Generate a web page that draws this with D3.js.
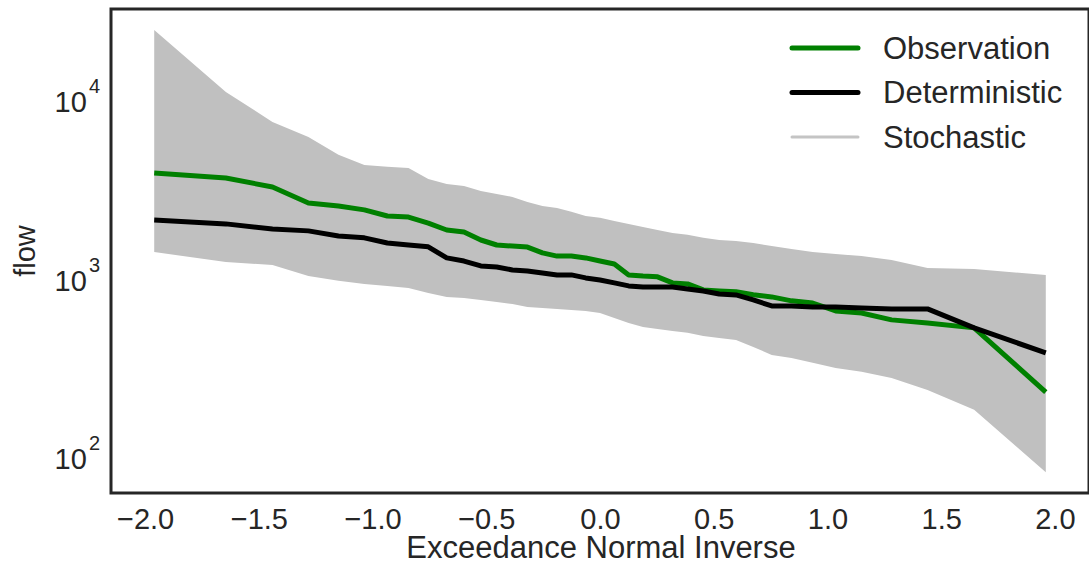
<!DOCTYPE html>
<html>
<head>
<meta charset="utf-8">
<script src="https://cdn.jsdelivr.net/npm/d3@7"></script>
<style>
  body { margin: 0; background: #fff; }
  text { font-family: "Liberation Sans", Arial, sans-serif; fill: #262626; }
</style>
</head>
<body>
<svg width="1089" height="574"></svg>
<script>
const svg = d3.select("svg");

// plotting positions (exceedance, normal inverse)
const xs = [-1.960, -1.645, -1.440, -1.282, -1.150, -1.036, -0.935, -0.842, -0.755, -0.674,
  -0.598, -0.524, -0.454, -0.385, -0.319, -0.253, -0.189, -0.126, -0.063, 0,
  0.063, 0.126, 0.189, 0.253, 0.319, 0.385, 0.454, 0.524, 0.598, 0.674,
  0.755, 0.842, 0.935, 1.036, 1.150, 1.282, 1.440, 1.645, 1.960];

const observation = [3800, 3560, 3170, 2580, 2480, 2360, 2180, 2150, 1990, 1820,
  1775, 1600, 1500, 1480, 1460, 1355, 1300, 1300, 1270, 1220,
  1175, 1020, 1005, 995, 920, 908, 840, 830, 820, 790,
  768, 730, 710, 641, 624, 571, 549, 515, 225];

const deterministic = [2070, 1970, 1845, 1800, 1685, 1645, 1540, 1500, 1465, 1270,
  1220, 1145, 1130, 1087, 1073, 1046, 1020, 1020, 981, 956,
  920, 885, 873, 873, 873, 851, 829, 798, 788, 739,
  683, 683, 675, 675, 666, 658, 658, 515, 373];

const stochHigh = [24000, 10800, 7340, 6050, 4800, 4210, 4110, 4050, 3520, 3300,
  3210, 3010, 2900, 2790, 2615, 2480, 2420, 2300, 2180, 2130,
  2045, 1970, 1890, 1820, 1750, 1710, 1645, 1600, 1580, 1540,
  1480, 1425, 1370, 1335, 1300, 1235, 1115, 1100, 1020];

const stochLow = [1370, 1205, 1160, 1005, 945, 908, 885, 862, 808, 768,
  758, 739, 720, 701, 675, 666, 658, 649, 641, 624,
  585, 549, 521, 508, 495, 483, 464, 452, 441, 403,
  363, 349, 328, 307, 292, 270, 231, 179, 80];

const xTicks = [-2.0, -1.5, -1.0, -0.5, 0.0, 0.5, 1.0, 1.5, 2.0];
const yTicks = [100, 1000, 10000];

const seriesNames = ["Observation", "Deterministic", "Stochastic"];
const seriesColors = ["#008000", "#000000", "#c4c4c4"];

const plotLeft = 111;
const plotRight = 1089;
const plotTop = 9;
const plotBottom = 493;

const x = d3.scaleLinear().domain([-2.15, 2.15]).range([plotLeft, plotRight]);
const y = d3.scaleLog().domain([61.2, 31500]).range([plotBottom, plotTop]);

const idx = d3.range(xs.length);

// stochastic band
svg
  .append("path")
  .attr("fill", "#c0c0c0")
  .attr(
    "d",
    d3.area()
      .x(i => x(xs[i]))
      .y0(i => y(stochLow[i]))
      .y1(i => y(stochHigh[i]))(idx)
  );

const line = vals =>
  d3.line()
    .x(i => x(xs[i]))
    .y(i => y(vals[i]))(idx);

svg
  .append("path")
  .attr("d", line(observation))
  .attr("fill", "none")
  .attr("stroke", seriesColors[0])
  .attr("stroke-width", 5)
  .attr("stroke-linejoin", "round");

svg
  .append("path")
  .attr("d", line(deterministic))
  .attr("fill", "none")
  .attr("stroke", seriesColors[1])
  .attr("stroke-width", 5)
  .attr("stroke-linejoin", "round");

// frame
svg
  .append("rect")
  .attr("x", plotLeft)
  .attr("y", plotTop)
  .attr("width", plotRight - plotLeft)
  .attr("height", plotBottom - plotTop)
  .attr("fill", "none")
  .attr("stroke", "#262626")
  .attr("stroke-width", 3);

// x axis
const xAxis = svg
  .append("g")
  .attr("transform", `translate(0, ${plotBottom})`)
  .call(
    d3.axisBottom(x)
      .tickValues(xTicks)
      .tickSize(0)
      .tickPadding(15)
      .tickFormat(d => d3.format(".1f")(d).replace("-", "\u2212"))
  );
xAxis.select(".domain").remove();
xAxis.selectAll("text")
  .attr("font-size", 29)
  .attr("fill", "#262626")
  .style("font-family", "'Liberation Sans', Arial, sans-serif");

// y axis (log, 10^n labels)
const yAxis = svg
  .append("g")
  .attr("transform", `translate(${plotLeft}, 0)`)
  .call(
    d3.axisLeft(y)
      .tickValues(yTicks)
      .tickSize(0)
      .tickPadding(11)
      .tickFormat(() => "")
  );
yAxis.select(".domain").remove();
yAxis.selectAll("text").each(function (d) {
  const t = d3.select(this)
    .attr("dy", null)
    .attr("y", 14)
    .attr("font-size", 29)
    .attr("fill", "#262626")
    .style("font-family", "'Liberation Sans', Arial, sans-serif");
  t.append("tspan").text("10");
  t.append("tspan")
    .attr("font-size", 20)
    .attr("dx", 2)
    .attr("dy", -19)
    .text(Math.round(Math.log10(d)));
});

// axis titles
svg
  .append("text")
  .attr("x", 601)
  .attr("y", 558)
  .attr("text-anchor", "middle")
  .attr("font-size", 31)
  .text("Exceedance Normal Inverse");

svg
  .append("text")
  .attr("transform", `translate(35, ${(plotTop + plotBottom) / 2}) rotate(-90)`)
  .attr("text-anchor", "middle")
  .attr("font-size", 29)
  .text("flow");

// legend
const legend = svg.append("g").attr("transform", "translate(792, 48)");
const legendWidths = [5, 5, 3];
seriesNames.forEach((name, i) => {
  const row = legend.append("g").attr("transform", `translate(0, ${i * 44.5})`);
  row
    .append("line")
    .attr("x1", 0)
    .attr("x2", 66)
    .attr("stroke", seriesColors[i])
    .attr("stroke-width", legendWidths[i])
    .attr("stroke-linecap", "round");
  row
    .append("text")
    .attr("x", 91)
    .attr("dy", "0.35em")
    .attr("font-size", 31)
    .text(name);
});
</script>
</body>
</html>
